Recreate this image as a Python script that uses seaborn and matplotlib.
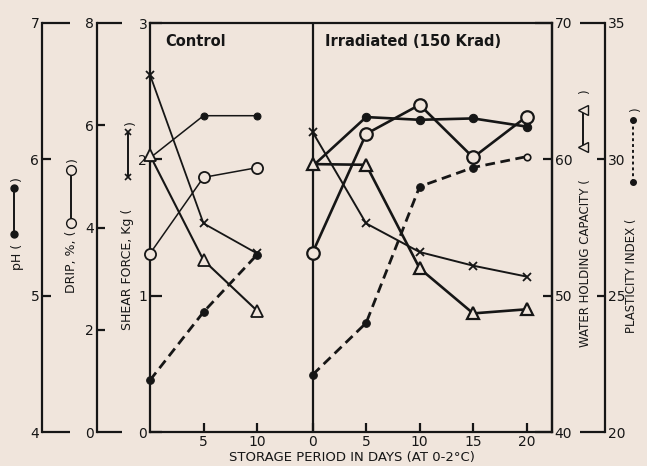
import matplotlib
matplotlib.use("Agg")
import matplotlib.pyplot as plt
import seaborn as sns
import numpy as np
from matplotlib.ticker import FixedLocator, StrMethodFormatter
from matplotlib.lines import Line2D

# ---------------- data ----------------
ctrl_days = [0, 5, 10]
irr_days = [0, 5, 10, 15, 20]

ctrl_ph = [6.01, 6.32, 6.32]
irr_ph = [5.95, 6.31, 6.29, 6.30, 6.24]

ctrl_drip = [3.49, 4.98, 5.17]
irr_drip = [3.51, 5.83, 6.40, 5.37, 6.17]

ctrl_shear = [2.62, 1.53, 1.31]
irr_shear = [2.20, 1.53, 1.32, 1.22, 1.14]

ctrl_whc = [60.3, 52.6, 48.9]
irr_whc = [59.65, 59.6, 52.0, 48.7, 49.0]

ctrl_plast = [21.9, 24.4, 26.5]
irr_plast = [22.1, 24.0, 29.0, 29.7, 30.1]

day_tick_labels = ["5", "10", "0", "5", "10", "15", "20"]

# ---------------- layout helpers ----------------
BG = "#f0e5dc"
INK = "#161616"
W, H = 647, 466
PT = 0.72  # points per pixel at 100 dpi
IRR_OFFSET = 15.2

def fx(x):
    return x / W

def fy(y):
    return 1 - y / H

sns.set_theme(style="white")
plt.rcParams["font.family"] = ["DejaVu Sans"]
plt.rcParams["text.color"] = INK

fig = plt.figure(figsize=(6.47, 4.66), dpi=100, facecolor=BG)
ax = fig.add_axes([fx(150), fy(432), (552 - 150) / W, (432 - 23) / H])
ax.set_facecolor(BG)
for s in ax.spines.values():
    s.set_color(INK)
    s.set_linewidth(1.6)

ctrl_x = list(ctrl_days)
irr_x = [d + IRR_OFFSET for d in irr_days]
ax.set_xlim(0, 37.57)
ax.set_ylim(0, 3)

def twin(outward_px, side):
    t = ax.twinx()
    for s in t.spines.values():
        s.set_visible(False)
    t.spines[side].set_visible(True)
    t.spines[side].set_position(("outward", outward_px * PT))
    t.spines[side].set_color(INK)
    t.spines[side].set_linewidth(1.6)
    t.yaxis.set_ticks_position(side)
    t.yaxis.set_label_position(side)
    t.set_xlim(ax.get_xlim())
    return t

def style_axis(t, lo, hi, minor, major_len, minor_len):
    t.set_ylim(lo, hi)
    t.yaxis.set_major_locator(FixedLocator([lo, hi]))
    t.yaxis.set_minor_locator(FixedLocator(minor))
    t.yaxis.set_major_formatter(StrMethodFormatter("{x:g}"))
    t.yaxis.set_minor_formatter(StrMethodFormatter("{x:g}"))
    t.tick_params(axis="y", which="major", direction="in", length=major_len * PT,
                  width=1.6, labelsize=10, pad=2, colors=INK)
    t.tick_params(axis="y", which="minor", direction="in", length=minor_len * PT,
                  width=1.6, labelsize=10, pad=2, colors=INK)

ax_ph = twin(108, "left")
style_axis(ax_ph, 4, 7, [5, 6], 28, 9)
ax_drip = twin(53, "left")
style_axis(ax_drip, 0, 8, [2, 4, 6], 25, 8)
ax_whc = twin(0, "right")
style_axis(ax_whc, 40, 70, [50, 60], 17, 9)
ax_pl = twin(53, "right")
style_axis(ax_pl, 20, 35, [25, 30], 25, 8)

# main (shear) axis ticks
ax.yaxis.set_major_locator(FixedLocator([0, 1, 2, 3]))
ax.yaxis.set_major_formatter(StrMethodFormatter("{x:g}"))
ax.tick_params(axis="y", which="major", left=True, right=False, direction="in",
               length=12 * PT, width=1.6, labelsize=10, pad=2, colors=INK)
ax.set_xticks([5, 10] + irr_x)
ax.set_xticklabels(day_tick_labels)
ax.tick_params(axis="x", which="major", bottom=True, top=False, direction="in",
               length=9 * PT, width=1.6, labelsize=10, pad=2, colors=INK)
ax.axvline(IRR_OFFSET, color=INK, lw=1.6, zorder=1)
ax.set_xlabel("")
ax.set_ylabel("")

# ---------------- series ----------------
def draw(a, xs, ys, **kw):
    sns.lineplot(x=xs, y=ys, ax=a, color=INK, legend=False, clip_on=False, **kw)

# pH (filled circles)
draw(ax_ph, ctrl_x, ctrl_ph, lw=1.1, marker="o", markersize=5,
     markerfacecolor=INK, markeredgecolor=INK)
draw(ax_ph, irr_x, irr_ph, lw=1.9, marker="o", markersize=6,
     markerfacecolor=INK, markeredgecolor=INK)
# drip (open circles)
draw(ax_drip, ctrl_x, ctrl_drip, lw=1.1, marker="o", markersize=8,
     markerfacecolor=BG, markeredgecolor=INK, markeredgewidth=1.3)
draw(ax_drip, irr_x, irr_drip, lw=1.9, marker="o", markersize=9,
     markerfacecolor=BG, markeredgecolor=INK, markeredgewidth=1.6)
# shear force (crosses)
draw(ax, ctrl_x, ctrl_shear, lw=1.3, marker="x", markersize=6,
     markeredgecolor=INK, markeredgewidth=1.3)
draw(ax, irr_x, irr_shear, lw=1.4, marker="x", markersize=6,
     markeredgecolor=INK, markeredgewidth=1.3)
# water holding capacity (open triangles)
draw(ax_whc, ctrl_x, ctrl_whc, lw=1.5, marker="^", markersize=8,
     markerfacecolor=BG, markeredgecolor=INK, markeredgewidth=1.3)
draw(ax_whc, irr_x, irr_whc, lw=1.9, marker="^", markersize=9,
     markerfacecolor=BG, markeredgecolor=INK, markeredgewidth=1.6)
# plasticity index (dashed, filled dots)
draw(ax_pl, ctrl_x, ctrl_plast, lw=2.0, linestyle=(0, (3.5, 2)), marker="o",
     markersize=5.5, markerfacecolor=INK, markeredgecolor=INK)
draw(ax_pl, irr_x, irr_plast, lw=2.0, linestyle=(0, (3.5, 2)), marker="o",
     markersize=5.5, markerfacecolor=INK, markeredgecolor=INK,
     markevery=list(range(len(irr_plast) - 1)))
sns.scatterplot(x=irr_x[-1:], y=irr_plast[-1:], ax=ax_pl, marker="o", s=22,
                facecolor=BG, edgecolor=INK, linewidth=1.2, zorder=5,
                legend=False, clip_on=False)

for a in (ax_ph, ax_drip, ax_whc, ax_pl):
    a.set_xlim(ax.get_xlim())
    a.set_xlabel("")
    a.set_ylabel("")

# ---------------- texts ----------------
fig.text(fx(165), fy(42), "Control", fontsize=10.5, fontweight="bold",
         ha="left", va="center")
fig.text(fx(325), fy(42), "Irradiated (150 Krad)", fontsize=10.5,
         fontweight="bold", ha="left", va="center")
fig.text(fx(352), fy(458), "STORAGE PERIOD IN DAYS (AT 0-2°C)", fontsize=9.5,
         ha="center", va="center")

def vlabel(xc, ybot, text, size):
    fig.text(fx(xc), fy(ybot), text, rotation=90, fontsize=size,
             ha="center", va="bottom")

def key(x, y1, y2, ls="-", **mk):
    fig.add_artist(Line2D([fx(x), fx(x)], [fy(y1), fy(y2)], color=INK, lw=1.4,
                          ls=ls, transform=fig.transFigure, **mk))

def close(xc, yc, size):
    fig.text(fx(xc), fy(yc), ")", rotation=90, fontsize=size,
             ha="center", va="center")

vlabel(17, 270, "pH (", 9)
key(14, 234, 188, marker="o", markersize=5, markerfacecolor=INK, markeredgecolor=INK)
close(16, 179, 9)

vlabel(72, 293, "DRIP, %, (", 9)
key(71, 223, 170, marker="o", markersize=7, markerfacecolor=BG, markeredgecolor=INK)
close(72, 160, 9)

vlabel(128, 330, "SHEAR FORCE, Kg (", 9)
key(128, 177, 132, marker="x", markersize=5, markeredgecolor=INK, markeredgewidth=1.2)
close(130, 123, 9)

vlabel(585, 347, "WATER HOLDING CAPACITY (", 8.5)
key(583, 147, 110, marker="<", markersize=7, markerfacecolor=BG, markeredgecolor=INK)
close(585, 92, 8.5)

vlabel(632, 333, "PLASTICITY INDEX (", 8.5)
key(633, 182, 120, ls=(0, (1.5, 1.5)), marker="o", markersize=4,
    markerfacecolor=INK, markeredgecolor=INK)
close(636, 110, 8.5)

fig.savefig("out.png", dpi=100, facecolor=BG)
